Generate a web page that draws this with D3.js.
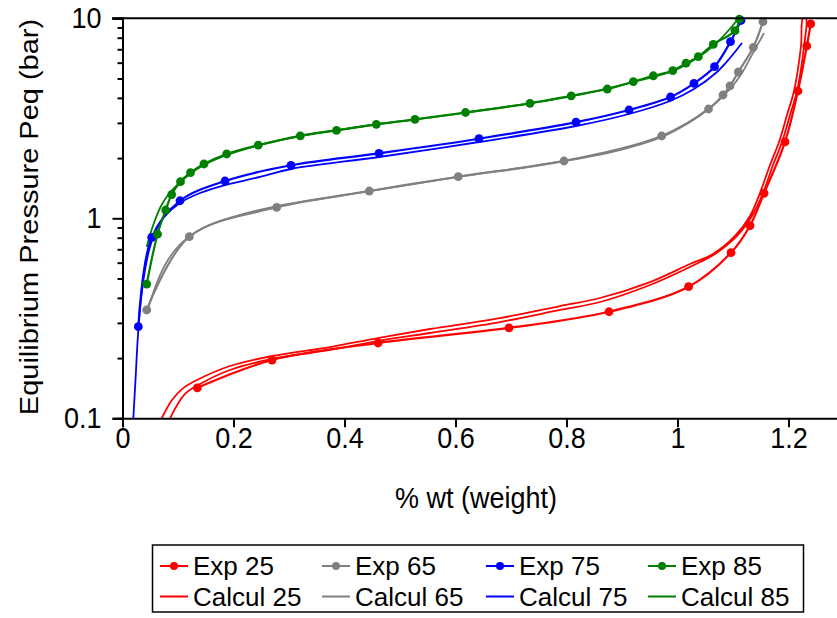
<!DOCTYPE html>
<html><head><meta charset="utf-8">
<script src="https://cdn.jsdelivr.net/npm/d3@7"></script>
<style>body{margin:0;background:#fff} text{font-family:"Liberation Sans",Arial,sans-serif;fill:#000}</style>
</head><body><svg id="c" width="837" height="618"></svg>
<script>
const xTicks=[0,0.2,0.4,0.6,0.8,1,1.2];
const yTicks=[0.1,1,10];
const temps=["25","65","75","85"];
const colors=["#ff0000","#808080","#0000ff","#008000"];
const xTitle="% wt (weight)";
const yTitle="Equilibrium Pressure Peq (bar)";

const exp25=[[0.1348,0.142],[0.2694,0.1956],[0.4604,0.238],[0.6964,0.283],[0.8766,0.341],[1.020,0.455],[1.0964,0.673],[1.1306,0.918],[1.156,1.334],[1.1937,2.41],[1.217,4.33],[1.233,7.27],[1.240,9.37]];
const exp65=[[0.0436,0.348],[0.1204,0.809],[0.2778,1.135],[0.4447,1.369],[0.605,1.614],[0.7955,1.934],[0.9715,2.579],[1.0559,3.52],[1.082,4.135],[1.0946,4.59],[1.1096,5.39],[1.1366,7.16],[1.154,9.62]];
const exp75=[[0.0285,0.287],[0.0526,0.803],[0.1036,1.224],[0.1847,1.536],[0.3036,1.841],[0.4622,2.113],[0.6423,2.50],[0.8171,3.024],[0.9126,3.479],[0.9874,4.04],[1.0297,4.73],[1.0667,5.73],[1.0955,7.64],[1.1144,9.75]];
const exp85=[[0.0436,0.469],[0.0631,0.833],[0.0778,1.10],[0.0886,1.315],[0.1045,1.524],[0.1225,1.690],[0.1468,1.869],[0.1877,2.097],[0.2447,2.321],[0.3204,2.585],[0.3856,2.751],[0.4573,2.951],[0.527,3.126],[0.618,3.381],[0.7342,3.758],[0.8085,4.098],[0.8735,4.43],[0.9204,4.82],[0.9564,5.16],[0.9914,5.47],[1.0153,5.96],[1.0375,6.43],[1.0645,7.41],[1.1036,8.67],[1.1114,9.89]];

const calc25=[[0.0706,0.1],[0.0892,0.1234],[0.1072,0.140],[0.1342,0.1554],[0.1937,0.1826],[0.2694,0.2049],[0.3739,0.2272],[0.4604,0.252],[0.5541,0.2796],[0.6802,0.317],[0.7883,0.364],[0.8604,0.3995],[0.9505,0.480],[1.0225,0.591],[1.064,0.663],[1.1036,0.816],[1.1306,1.027],[1.1486,1.338],[1.1667,1.847],[1.1829,2.407],[1.1973,3.285],[1.2099,4.33],[1.2225,7.27],[1.2261,10.03],
 [1.2315,10.0],[1.228,7.27],[1.2153,4.33],[1.2027,3.285],[1.1883,2.407],[1.1721,1.847],[1.154,1.338],[1.1342,1.027],[1.1072,0.816],[1.0676,0.663],[1.0261,0.5775],[0.9505,0.464],[0.8604,0.3815],[0.7883,0.348],[0.6802,0.303],[0.5541,0.267],[0.4604,0.2434],[0.3739,0.2196],[0.2694,0.198],[0.1937,0.1744],[0.1396,0.1484],[0.1126,0.1323],[0.0856,0.1]];
const calc65=[[0.0441,0.340],[0.0532,0.4088],[0.064,0.4915],[0.0766,0.584],[0.0946,0.694],[0.1216,0.816],[0.1577,0.926],[0.2117,1.039],[0.2784,1.152],[0.3559,1.249],[0.4459,1.369],[0.6045,1.609],[0.7955,1.934],[0.8964,2.195],[0.9721,2.55],[1.0225,3.03],[1.0586,3.56],[1.0946,4.43],[1.1162,5.33],[1.136,6.71],[1.1559,8.44]];
const calc75=[[0.0195,0.1],[0.0234,0.1554],[0.0279,0.261],[0.0333,0.3905],[0.0405,0.5514],[0.0495,0.7186],[0.0604,0.874],[0.0766,1.027],[0.1036,1.193],[0.1396,1.338],[0.1847,1.467],[0.2477,1.609],[0.3036,1.764],[0.4622,2.025],[0.6423,2.407],[0.8171,2.894],[0.9126,3.323],[0.9865,3.859],[1.0297,4.43],[1.0712,5.39],[1.0946,6.33],[1.1162,7.52]];
const calc85=[[0.0436,0.7186],[0.0495,0.825],[0.0586,0.9806],[0.0694,1.152],[0.082,1.307],[0.0964,1.450],[0.1216,1.665],[0.1468,1.847],[0.1883,2.072],[0.2441,2.312],[0.3198,2.579],[0.4568,2.944],[0.6171,3.37],[0.8081,4.074],[0.9198,4.80],[0.9919,5.45],[1.0369,6.37],[1.064,7.27],[1.091,8.64],[1.109,9.92]];

const expSeries=[exp25,exp65,exp75,exp85];
const calcSeries=[calc25,calc65,calc75,calc85];

const svg=d3.select("#c");
const x=d3.scaleLinear().domain([0,1.3]).range([122.5,844]);
const y=d3.scaleLog().domain([0.1,10]).range([418.3,18.3]);
const FS=30, SX=0.9, LFS=26;

svg.append("clipPath").attr("id","clip").append("rect")
  .attr("x",122.5).attr("y",18.3).attr("width",722).attr("height",400);

const line=d3.line().x(d=>x(d[0])).y(d=>y(d[1])).curve(d3.curveCatmullRom.alpha(0.5));
const plot=svg.append("g").attr("clip-path","url(#clip)");
calcSeries.forEach((s,i)=>{
  plot.append("path").attr("d",line(s)).attr("fill","none").attr("stroke",colors[i]).attr("stroke-width",1.8);
});
expSeries.forEach((s,i)=>{
  plot.append("path").attr("d",line(s)).attr("fill","none").attr("stroke",colors[i]).attr("stroke-width",2.2);
});
expSeries.forEach((s,i)=>{
  svg.append("g").selectAll("circle").data(s).join("circle")
    .attr("cx",d=>x(d[0])).attr("cy",d=>y(d[1])).attr("r",4.4).attr("fill",colors[i]);
});

// axes
const minor=[];
[0.1,1].forEach(b=>{for(let k=2;k<=9;k++)minor.push(b*k);});
const gyMinor=svg.append("g").attr("transform","translate(122.5,0)")
  .call(d3.axisLeft(y).tickValues(minor).tickSize(5).tickFormat(""));
const gy=svg.append("g").attr("transform","translate(122.5,0)")
  .call(d3.axisLeft(y).tickValues(yTicks).tickSize(10).tickFormat(d3.format("~g")));
const gx=svg.append("g").attr("transform","translate(0,418.3)")
  .call(d3.axisBottom(x).tickValues(xTicks).tickSize(9).tickFormat(d3.format("~g")));
[gyMinor,gy,gx].forEach(g=>{
  g.selectAll("path.domain").attr("stroke","#000").attr("stroke-width",2);
  g.selectAll(".tick line").attr("stroke","#000").attr("stroke-width",2);
  g.selectAll("text").attr("font-size",FS).attr("font-family","Liberation Sans, Arial, sans-serif").attr("fill","#000");
});
gy.selectAll("text").attr("x",0).attr("transform",`translate(-21,0) scale(${SX},1)`);
gx.selectAll("text").attr("y",0).attr("transform",`translate(0,8) scale(${SX},1)`);
svg.append("line").attr("x1",112).attr("x2",837).attr("y1",18.3).attr("y2",18.3).attr("stroke","#000").attr("stroke-width",2);

svg.append("text").attr("transform",`translate(476,508) scale(${SX},1)`).attr("text-anchor","middle").attr("font-size",FS).text(xTitle);
svg.append("text").attr("transform",`translate(38,217) rotate(-90) scale(1,${SX})`).attr("text-anchor","middle").attr("font-size",29).text(yTitle);

// legend
const lg=svg.append("g");
lg.append("rect").attr("x",152.5).attr("y",545).attr("width",651).attr("height",67).attr("fill","#fff").attr("stroke","#000").attr("stroke-width",1.5);
const colX=[160,322,486,648];
const rowY=[566,596.5];
temps.forEach((t,i)=>{
  [0,1].forEach(r=>{
    const g=lg.append("g").attr("transform",`translate(${colX[i]},${rowY[r]})`);
    g.append("line").attr("x1",0).attr("x2",28).attr("stroke",colors[i]).attr("stroke-width",2);
    if(r===0) g.append("circle").attr("cx",14).attr("r",4).attr("fill",colors[i]);
    g.append("text").attr("x",33).attr("dy","0.36em").attr("font-size",LFS).text((r===0?"Exp ":"Calcul ")+t);
  });
});
</script></body></html>
